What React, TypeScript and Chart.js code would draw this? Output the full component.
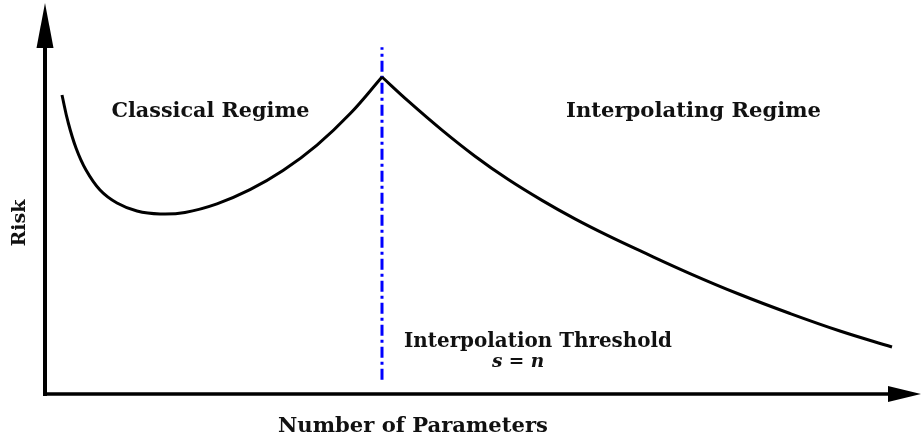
import React, { useEffect, useRef } from "react";
import { Chart, registerables } from "chart.js";

Chart.register(...registerables);

// Classical regime branch (x = number of parameters, y = risk), arbitrary units 0..100
const classicalX = [1.94, 2.63, 3.54, 4.68, 6.28, 8.22, 10.5, 13.13, 15.98, 19.63, 23.4, 27.17, 31.05, 34.82, 38.47];
const classicalY = [75.89, 69.04, 62.44, 56.85, 51.78, 48.48, 46.45, 45.69, 46.07, 48.25, 51.85, 56.7, 63.17, 71.12, 80.46];

// Interpolating regime branch
const interpX = [38.47, 41.44, 45.32, 49.09, 52.85, 56.74, 60.5, 64.27, 68.15, 73.63, 79.34, 85.05, 90.75, 96.69];
const interpY = [80.46, 74.39, 66.98, 60.36, 54.49, 49.14, 44.44, 40.18, 36.12, 30.58, 25.25, 20.43, 15.99, 11.93];

// Interpolation threshold (s = n)
const thresholdX = 38.47;
const thresholdYRange = [3.6, 88.0];

const regimeLabels = ["Classical Regime", "Interpolating Regime"];
const thresholdLabel = "Interpolation Threshold";
const thresholdEq = "s = n";
const xTitle = "Number of Parameters";
const yTitle = "Risk";

const FONT = "'DejaVu Serif', 'Liberation Serif', serif";

function fitText(ctx: CanvasRenderingContext2D, text: string, cx: number, y: number, width: number) {
  const w = ctx.measureText(text).width;
  const sx = width / w;
  ctx.save();
  ctx.translate(cx, y);
  ctx.scale(sx, 1);
  ctx.textAlign = "center";
  ctx.fillText(text, 0, 0);
  ctx.restore();
}

const decorPlugin = {
  id: "decor",
  beforeDatasetsDraw(chart: any) {
    const { ctx } = chart;
    const xs = chart.scales.x;
    const ys = chart.scales.y;
    const x0 = xs.getPixelForValue(0);
    const y0 = ys.getPixelForValue(0);
    ctx.save();
    ctx.strokeStyle = "#000";
    ctx.fillStyle = "#000";
    ctx.lineWidth = 4;
    // y axis
    ctx.beginPath();
    ctx.moveTo(x0, y0 + 2);
    ctx.lineTo(x0, 46);
    ctx.stroke();
    ctx.beginPath();
    ctx.moveTo(x0, 3);
    ctx.lineTo(x0 - 8.5, 48);
    ctx.lineTo(x0 + 8.5, 48);
    ctx.closePath();
    ctx.fill();
    // x axis
    ctx.lineWidth = 3.5;
    ctx.beginPath();
    ctx.moveTo(x0 - 2, y0);
    ctx.lineTo(890, y0);
    ctx.stroke();
    ctx.beginPath();
    ctx.moveTo(921, y0);
    ctx.lineTo(888, y0 - 8);
    ctx.lineTo(888, y0 + 8);
    ctx.closePath();
    ctx.fill();
    ctx.restore();
  },
  afterDraw(chart: any) {
    const { ctx } = chart;
    ctx.save();
    ctx.fillStyle = "#111";
    ctx.textBaseline = "alphabetic";
    ctx.font = `bold 19.5px ${FONT}`;
    fitText(ctx, regimeLabels[0], 210.5, 116.5, 198);
    fitText(ctx, regimeLabels[1], 693.5, 117, 255);
    fitText(ctx, thresholdLabel, 538, 347, 268);
    fitText(ctx, xTitle, 413, 432, 270);
    ctx.font = `italic bold 18.5px ${FONT}`;
    ctx.textAlign = "center";
    ctx.fillText(thresholdEq, 518, 367);
    ctx.font = `bold 19px ${FONT}`;
    ctx.translate(25, 223);
    ctx.rotate(-Math.PI / 2);
    ctx.fillText(yTitle, 0, 0);
    ctx.restore();
  },
};

export default function App() {
  const ref = useRef<HTMLCanvasElement>(null);
  useEffect(() => {
    if (!ref.current) return;
    const chart = new Chart(ref.current, {
      type: "line",
      data: {
        datasets: [
          {
            data: classicalX.map((x, i) => ({ x, y: classicalY[i] })),
            borderColor: "#000",
            borderWidth: 3,
            pointRadius: 0,
            tension: 0.4,
            fill: false,
          },
          {
            data: interpX.map((x, i) => ({ x, y: interpY[i] })),
            borderColor: "#000",
            borderWidth: 3,
            pointRadius: 0,
            tension: 0.4,
            fill: false,
          },
          {
            data: thresholdYRange.map((y) => ({ x: thresholdX, y })),
            borderColor: "#0000ff",
            borderWidth: 3,
            borderDash: [11, 4, 3, 4],
            pointRadius: 0,
            fill: false,
          },
        ],
      },
      options: {
        responsive: false,
        animation: false,
        devicePixelRatio: 1,
        layout: { padding: { left: 45, right: 1, top: 0, bottom: 47 } },
        plugins: { legend: { display: false }, tooltip: { enabled: false }, title: { display: false } },
        scales: {
          x: { type: "linear", min: 0, max: 100, display: false },
          y: { type: "linear", min: 0, max: 100, display: false },
        },
      },
      plugins: [decorPlugin],
    });
    return () => chart.destroy();
  }, []);
  return (
    <div style={{ position: "absolute", left: 0, top: 0, width: 922, height: 441, background: "#fff" }}>
      <canvas ref={ref} width={922} height={441} />
    </div>
  );
}
